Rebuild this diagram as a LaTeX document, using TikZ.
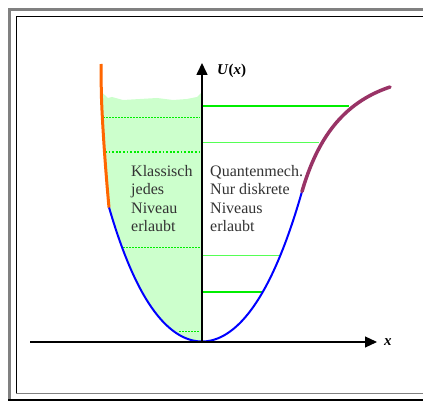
\documentclass[tikz,border=0pt]{standalone}
\usepackage{fontspec}
\setmainfont{Liberation Serif}
\usetikzlibrary{arrows.meta}
\definecolor{fillg}{HTML}{CCFFCC}
\definecolor{lvlg}{HTML}{00EE00}
\definecolor{lvlthin}{HTML}{55FF55}
\definecolor{potblue}{HTML}{0000FF}
\definecolor{potorange}{HTML}{FF6600}
\definecolor{potpurple}{HTML}{993366}
\definecolor{framegray}{HTML}{808080}
\definecolor{txtgray}{HTML}{333333}
\begin{document}
\begin{tikzpicture}[x=1pt,y=-1pt,
  axisline/.style={black,-{Triangle[length=12pt,width=11pt]}},
  levelthick/.style={lvlg,line width=2pt},
  levelthin/.style={lvlthin,line width=1pt},
  dotthin/.style={lvlg,line width=1pt,dash pattern=on 1.5pt off 1.5pt},
  dotthick/.style={lvlg,line width=1.8pt,dash pattern=on 1.8pt off 1.8pt},
  curveblue/.style={potblue,line width=2pt,line join=round},
  txt/.style={font=\fontsize{16pt}{18.5pt}\selectfont,align=left,inner sep=0pt,anchor=north west,text=txtgray}]
\useasboundingbox (0,0) rectangle (423,401);
% frame
\draw[framegray,line width=3pt] (9.5,401) -- (9.5,9.5) -- (423,9.5);
\draw[black,line width=1.4pt] (16.5,393) -- (16.5,16.5) -- (423,16.5);
\draw[framegray,line width=1.4pt] (16,393.5) -- (423,393.5);
\draw[black,line width=2.2pt] (8,400) -- (423,400);
% coordinates
\coordinate (O) at (202,342);
\coordinate (ytip) at (202,63);
\coordinate (xstart) at (30,342);
\coordinate (xtip) at (377,342);
% classical fill
\fill[fillg] (101.5,92) -- (108,98) -- (112,97) -- (123,100) -- (140,99) -- (157,98) -- (173,100) -- (187,99) -- (197,97) -- (202,92)
  -- (202,341.5)
  -- plot[domain=0:-93,samples=50] ({202+\x},{341.5-0.0125*\x*\x-0.0035*pow(\x/10,4)})
  .. controls (105.5,170) and (102,120) .. (101.5,95) -- cycle;
% dotted classical levels
\draw[dotthin] (103,117.5) -- (200,117.5);
\draw[dotthick] (105,152) -- (200,152);
\draw[dotthin] (123,247.5) -- (200,247.5);
\draw[dotthin] (179,331.5) -- (200,331.5);
% quantum levels
\draw[levelthick] (202,106) -- (349,106);
\draw[levelthin] (202,143) -- (319,143);
\draw[levelthin] (202,255) -- (281,255);
\draw[levelthick] (202,292) -- (263,292);
% potential
\draw[curveblue] plot[domain=-93:0,samples=60] ({202+\x},{341.5-0.0125*\x*\x-0.0035*pow(\x/10,4)})
  -- plot[domain=0:100,samples=60] ({202+\x},{341.5-0.0125*\x*\x-0.0025*pow(\x/10,4)});
\draw[potorange,line width=3pt] (101,64) -- (101.3,92) .. controls (102,120) and (105.5,170) .. (109,207.5);
\draw[potpurple,line width=3.5pt,line cap=round] (302,191.5) .. controls (317,140) and (342,103) .. (390,87);
% axes
\draw[axisline,line width=1.2pt] (xstart) -- (xtip);
\draw[axisline,line width=1.6pt] (O) -- (ytip);
\node[font=\fontsize{15pt}{18pt}\selectfont\bfseries,anchor=west,inner sep=0pt] (ulabel) at (217,71) {\textit{U}(\textit{x})};
\node[font=\fontsize{15pt}{18pt}\selectfont\bfseries\itshape,anchor=west,inner sep=0pt] (xlabel) at (384,342) {x};
% texts
\node[txt] (klass) at (131,165) {Klassisch\\jedes\\Niveau\\erlaubt};
\node[txt] (quant) at (210,165) {Quantenmech.\\Nur diskrete\\Niveaus\\erlaubt};
\end{tikzpicture}
\end{document}
